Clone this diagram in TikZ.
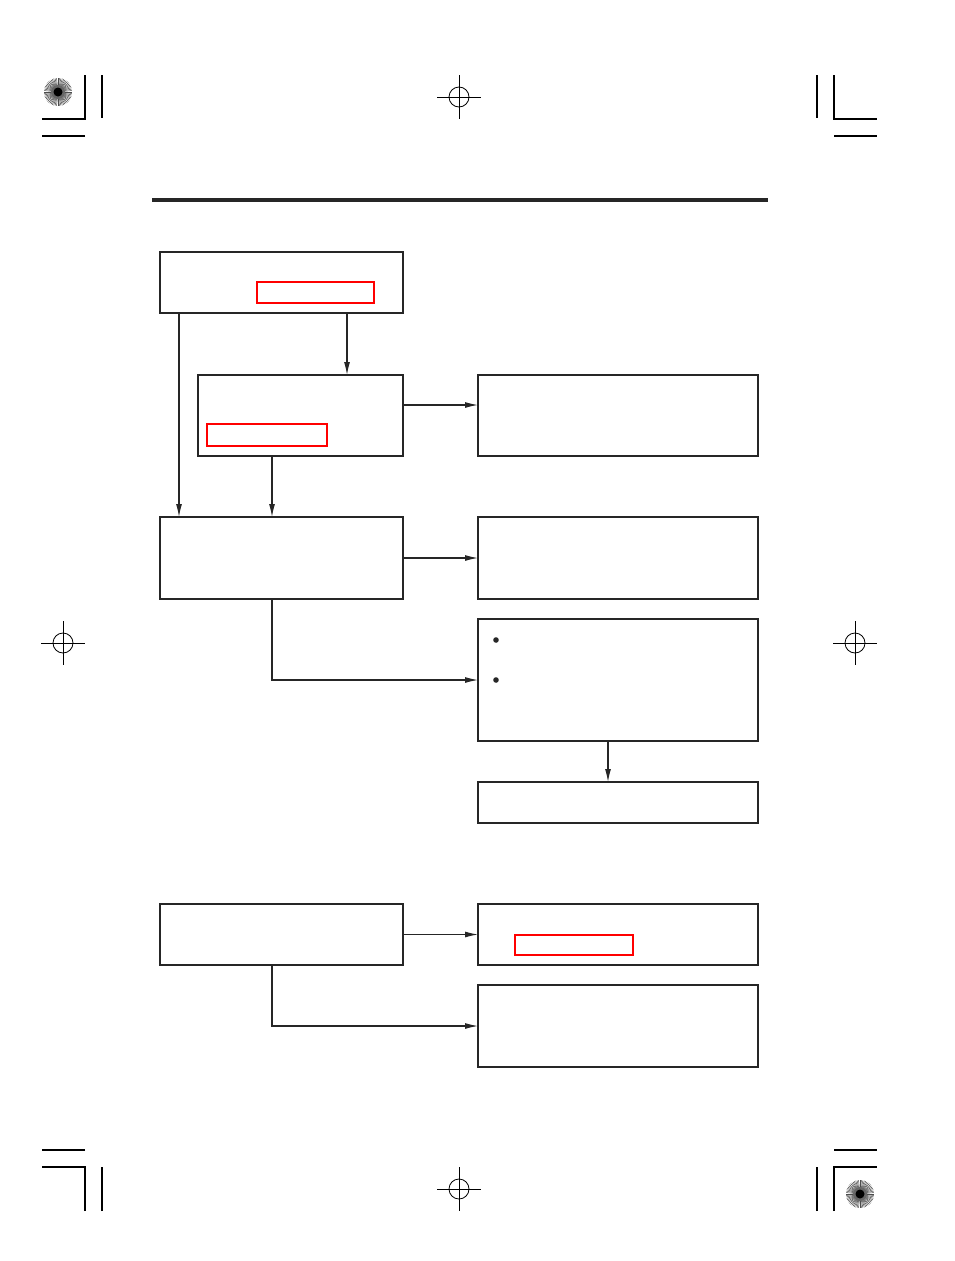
\documentclass[tikz,border=0pt]{standalone}
\usetikzlibrary{arrows.meta}
\tikzset{
  kasten/.style={draw=black!85,line width=1.2pt,outer sep=0pt,inner sep=0pt,anchor=north west},
  rotkasten/.style={draw=red,line width=1.6pt,outer sep=0pt,inner sep=0pt,anchor=north west},
  pfeil/.style={draw=black!85,line width=1.1pt,-{Latex[length=13pt,width=6pt]}},
  marke/.style={line width=1.1pt}
}
\begin{document}
\begin{tikzpicture}[x=1pt,y=-1pt]
  \useasboundingbox (0,0) rectangle (954,1261);
  % Kopflinie
  \draw[line width=3.2pt,black!85] (152,200)--(768,200);
  % Kaesten
  \node[kasten,minimum width=243pt,minimum height=61pt] (a) at (160,252) {};
  \node[rotkasten,minimum width=117pt,minimum height=21pt] (ar) at (257,282) {};
  \node[kasten,minimum width=205pt,minimum height=81pt] (b) at (198,375) {};
  \node[rotkasten,minimum width=120pt,minimum height=22pt] (br) at (207,424) {};
  \node[kasten,minimum width=280pt,minimum height=81pt] (c) at (478,375) {};
  \node[kasten,minimum width=243pt,minimum height=82pt] (d) at (160,517) {};
  \node[kasten,minimum width=280pt,minimum height=82pt] (e) at (478,517) {};
  \node[kasten,minimum width=280pt,minimum height=122pt] (f) at (478,619) {};
  \node[kasten,minimum width=280pt,minimum height=41pt] (g) at (478,782) {};
  \node[kasten,minimum width=243pt,minimum height=61pt] (h) at (160,904) {};
  \node[kasten,minimum width=280pt,minimum height=61pt] (i) at (478,904) {};
  \node[rotkasten,minimum width=118pt,minimum height=20pt] (ir) at (515,935) {};
  \node[kasten,minimum width=280pt,minimum height=82pt] (j) at (478,985) {};
  \foreach \p in {640,680} \fill[black!85] (496,\p) circle (2.8);
  % Pfeile
  \draw[pfeil] ([xshift=19pt]a.south west)--([xshift=19pt]d.north west);
  \draw[pfeil] ([xshift=-56pt]a.south east)--([xshift=-56pt]b.north east);
  \draw[pfeil] ([yshift=-30pt]b.north east)--([yshift=-30pt]c.north west);
  \draw[pfeil] ([xshift=74pt]b.south west)--([xshift=112pt]d.north west);
  \draw[pfeil] (d.east)--(e.west);
  \draw[pfeil] ([xshift=112pt]d.south west)|-(f.west);
  \draw[pfeil] ([xshift=-10pt]f.south)--([xshift=-10pt]g.north);
  \draw[pfeil] (h.east)--(i.west);
  \draw[pfeil] ([xshift=112pt]h.south west)|-(j.west);
  % Schnittmarken
  \foreach \x/\s in {85/-1,834/1}{
    \draw[marke] (\x,75)--(\x,119)--(\x+\s*43,119);
    \draw[marke] (\x-\s*17,75)--(\x-\s*17,118);
    \draw[marke] (\x,136)--(\x+\s*43,136);
    \draw[marke] (\x,1211)--(\x,1167)--(\x+\s*43,1167);
    \draw[marke] (\x-\s*17,1211)--(\x-\s*17,1167);
    \draw[marke] (\x,1150)--(\x+\s*43,1150);
  }
  \foreach \cx/\cy in {459/97,459/1189,63/643,855/643}{
    \draw[line width=0.8pt] (\cx,\cy) circle (10);
    \draw[line width=0.8pt] (\cx-22,\cy)--(\cx+22,\cy) (\cx,\cy-22)--(\cx,\cy+22);
  }
  \foreach \cx/\cy in {58/92,860/1194}{
    \foreach \w in {0,6,...,354} \draw[line width=0.5pt,black!70] (\cx,\cy)--++(\w:14);
    \fill[black!60] (\cx,\cy) circle (7);
    \fill[black] (\cx,\cy) circle (4.5);
  }
\end{tikzpicture}
\end{document}
